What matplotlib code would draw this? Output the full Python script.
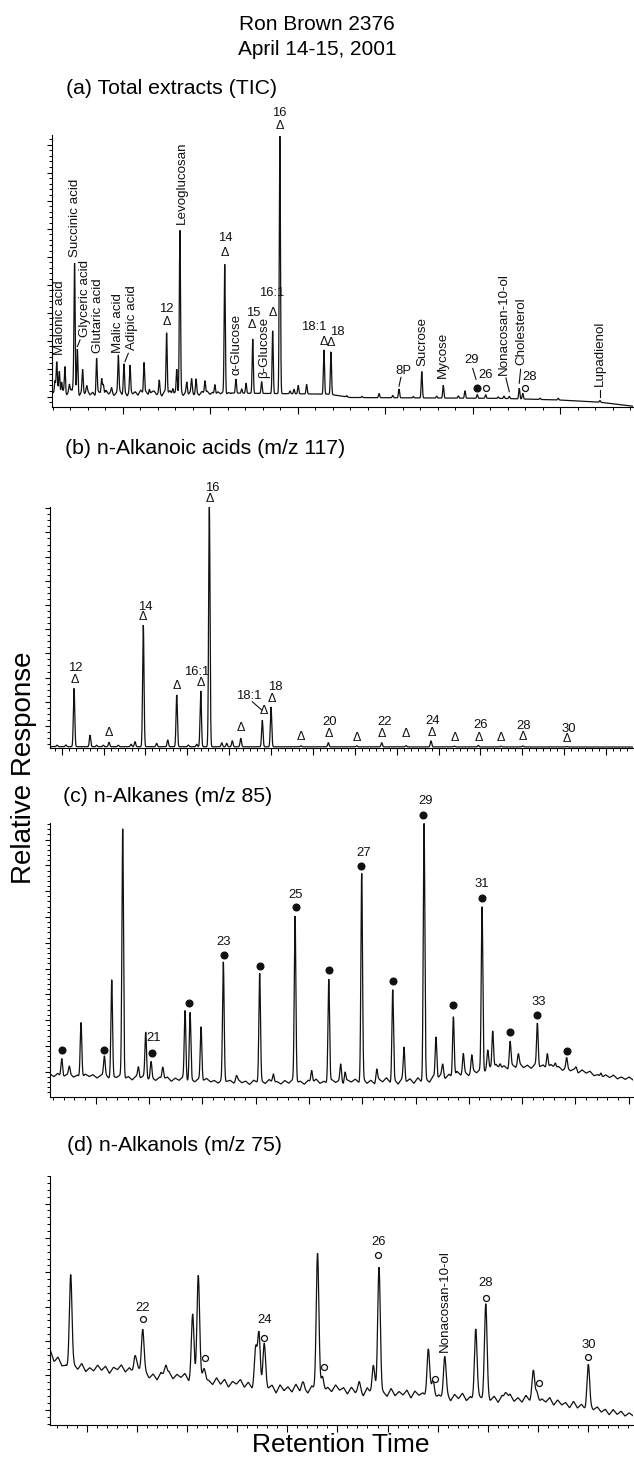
import numpy as np
import matplotlib
matplotlib.use("Agg")
import matplotlib.pyplot as plt
from matplotlib.ticker import MultipleLocator

plt.rcParams['font.family'] = ['Liberation Sans', 'DejaVu Sans']

# ======================= DATA =======================
# ---- (a) Total extracts (TIC) ----
A_BASE_T = [0.96, 11.1, 16.8, 18.0, 26.6, 30.0, 32.3, 34.16]
A_BASE_V = [1.3, 1.3, 0.9, -0.3, -0.6, -1.2, -2.0, -3.4]
A_PEAK_T = [1.13, 1.23, 1.38, 1.51, 1.70, 1.95, 2.18, 2.25, 2.41, 2.71, 2.94, 3.51, 3.80, 3.89,
            4.37, 4.75, 5.07, 5.42, 6.22, 6.52, 7.09, 7.51, 7.86, 8.09, 8.27, 8.66, 8.94, 9.19,
            9.70, 10.27, 10.83, 11.47, 11.8, 12.05, 12.43, 12.94, 13.57, 13.98, 14.56, 14.79,
            15.03, 15.51, 16.5, 16.9, 17.8, 18.67, 19.65, 20.43, 20.79, 21.6, 22.09, 22.94,
            23.32, 24.18, 24.56, 25.26, 25.74, 26.46, 26.79, 27.09, 27.66, 27.86, 28.85, 29.89,
            32.27]
A_PEAK_H = [5.0, 10.9, 7.3, 3.8, 9.7, 2.6, 3.3, 46.6, 15.8, 7.9, 1.9, 12.7, 5.5, 3.8,
            1.4, 12.7, 10.3, 9.1, 10.9, 1.9, 4.6, 21.6, 2.2, 8.5, 57.6, 3.8, 4.4, 5.0,
            4.4, 3.6, 46.1, 5.0, 1.5, 3.6, 19.4, 4.2, 22.4, 92.0, 1.0, 1.6,
            3.0, 3.4, 15.8, 15.2, 0.5, 0.4, 1.5, 0.8, 3.1, 0.5, 9.4, 0.7,
            4.6, 0.8, 2.6, 1.3, 1.3, 0.5, 0.8, 0.8, 3.8, 2.0, 0.5, 0.6,
            0.6]
A_NOISE_RANGE = (1.0, 11.2)
A_NOISE = [0.5, -0.8, 1.2, -0.3, 0.9, -1.0, 0.4, 1.3, -0.6, 0.2, -0.9, 0.8, -0.2, 1.1, -0.7, 0.3,
           -1.1, 0.6, 0.0, -0.8, 1.0, -0.4, 0.7, -0.9, 0.2, 1.2, -0.5, 0.4, -1.0, 0.9, -0.3, 0.5,
           -0.8, 1.1, -0.2, 0.6, -0.9, 0.3, 0.8, -0.6, 0.1, -1.0, 0.7, -0.3, 0.9, -0.7, 0.4, -0.2,
           0.8, -0.9, 0.5, -0.4, 1.0, -0.6, 0.2, -0.8, 0.6, -0.1, 0.7, -0.5, 0.3, -0.7, 0.5, -0.3,
           0.4, -0.5, 0.2, -0.2]
A_NAMES = ["Malonic acid", "Succinic acid", "Glyceric acid", "Glutaric acid", "Malic acid",
           "Adipic acid", "Levoglucosan", "α-Glucose", "β-Glucose", "Sucrose", "Mycose",
           "Nonacosan-10-ol", "Cholesterol", "Lupadienol"]
A_NUMS = ["12", "14", "15", "16:1", "16", "18:1", "18", "8P", "29", "26", "28"]

# ---- (b) n-Alkanoic acids (m/z 117) ----
B_BASE_T = [4.25, 87.85]
B_BASE_V = [1.45, 1.3]
B_PEAK_T = [5.33, 6.6, 7.77, 10.06, 11.0, 11.96, 12.78, 14.1, 15.93, 16.5, 17.69, 19.6, 21.19,
            22.48, 24.14, 25.34, 25.92, 27.15, 28.93, 29.64, 30.44, 31.65, 34.74, 35.99, 40.29,
            44.2, 48.27, 51.85, 55.33, 58.91, 62.25, 65.69, 68.94, 72.05, 78.35]
B_PEAK_H = [0.6, 0.7, 24.1, 4.8, 0.6, 0.6, 1.8, 0.6, 1.0, 2.1, 50.3, 1.4, 2.8,
            21.4, 0.7, 1.0, 23.1, 99.0, 1.6, 1.4, 2.5, 3.5, 11.0, 16.5, 0.4,
            1.7, 0.4, 1.7, 0.5, 2.5, 0.3, 0.6, 0.3, 0.4, 0.2]
B_NUMS = ["12", "14", "16:1", "16", "18:1", "18", "20", "22", "24", "26", "28", "30"]

# ---- (c) n-Alkanes (m/z 85) ----
C_BASE_T = [0.71, 5.4, 10.1, 14.8, 19.5, 24.2, 28.9, 35.4, 37.3, 40.1, 42.0, 44.8, 47.6,
            50.4, 52.3, 55.4]
C_BASE_V = [8.5, 8.3, 7.5, 6.7, 6.0, 6.0, 6.2, 6.5, 8.0, 9.5, 11.5, 12.3, 12.0,
            10.3, 8.5, 7.2]
C_PEAK_T = [1.81, 2.52, 3.62, 5.81, 6.5, 7.53, 9.0, 9.69, 10.19, 11.29, 13.38, 13.85, 14.88,
            16.97, 18.2, 20.38, 21.66, 23.7, 25.26, 26.86, 27.98, 28.39, 29.95, 31.36, 32.86,
            33.92, 35.8, 36.92, 37.55, 38.55, 39.48, 40.27, 41.24, 41.77, 42.24, 42.93, 43.87,
            44.64, 46.43, 47.36, 48.1, 49.18, 50.06, 52.4]
C_PEAK_H = [7.3, 2.8, 21.5, 6.9, 37.6, 96.3, 4.1, 17.5, 6.4, 4.5, 26.6, 26.1, 20.7,
            45.8, 2.0, 41.9, 3.4, 64.1, 4.7, 40.1, 6.8, 4.0, 80.0, 4.8, 35.4,
            12.8, 99.5, 15.8, 4.5, 23.6, 7.6, 6.3, 63.5, 6.5, 14.3, 2.0, 9.7,
            4.2, 16.6, 5.8, 1.8, 3.8, 1.5, 1.5]
C_NOISE = [0.6, -0.4, 0.9, -0.7, 0.2, 1.0, -0.5, 0.3, -0.9, 0.7, -0.2, 0.5, -0.8, 0.4, 1.1, -0.6,
           0.1, -0.3, 0.8, -0.7, 0.3, -1.0, 0.6, -0.2, 0.9, -0.5, 0.2, -0.8, 0.5, -0.1, 0.7, -0.9,
           0.4, -0.4, 1.0, -0.6, 0.2, -0.7, 0.6, -0.3, 0.8, -0.5, 0.1, -0.9, 0.6, -0.2, 0.4, -0.7,
           0.9, -0.4, 0.3, -1.0, 0.7, -0.1, 0.5, -0.6, 1.0, -0.3, 0.2, -0.8, 0.6, -0.5, 0.9, -0.2,
           0.3, -0.9, 0.7, -0.4, 1.1, -0.6, 0.2, -0.7, 0.8, -0.3, 0.5, -1.0, 0.6, -0.2, 0.9, -0.5,
           1.2, -0.8, 0.4, -1.1, 0.9, -0.3, 1.3, -0.7, 0.5, -1.2, 1.0, -0.4, 0.8, -1.0, 1.2, -0.6,
           0.3, -1.3, 0.9, -0.5, 1.1, -0.9, 0.6, -1.2, 1.3, -0.4, 0.7, -1.0, 1.0, -0.6, 0.4, -1.1,
           0.9, -0.3, 1.2, -0.8, 0.5, -1.0, 0.8, -0.5, 1.0, -0.7, 0.3, -0.9, 0.8, -0.4, 0.6, -1.0,
           0.9, -0.2, 0.5, -0.8, 0.7, -0.5, 0.4, -0.9, 0.6, -0.3, 0.8, -0.6, 0.2, -0.7, 0.5, -0.4,
           0.7, -0.6, 0.3, -0.5, 0.6, -0.4]
C_NUMS = ["21", "23", "25", "27", "29", "31", "33"]

# ---- (d) n-Alkanols (m/z 75) ----
D_BASE_T = [1.35, 1.84, 2.84, 6.33, 9.62, 11.32, 15.0, 16.3, 21.3, 24.3, 29.3, 34.2, 39.2,
            43.2, 49.2, 52.2, 54.7, 57.2, 59.47]
D_BASE_V = [26.6, 24.5, 22.5, 21.9, 21.9, 20.2, 19.6, 18.7, 17.3, 16.1, 16.1, 15.0, 14.4,
            13.5, 13.2, 12.0, 10.9, 9.4, 8.6]
D_PEAK_T = [3.41, 9.82, 10.59, 12.88, 15.57, 16.13, 16.73, 21.85, 22.18, 22.71, 26.54, 28.02,
            28.53, 32.18, 33.58, 34.15, 39.06, 39.56, 40.7, 43.79, 44.79, 46.8, 49.53, 49.9, 55.01]
D_PEAK_H = [27.7, 4.1, 12.6, 3.2, 17.9, 30.1, 3.6, 10.7, 15.7, 11.7, 2.0, 39.2,
            4.0, 2.4, 7.6, 37.3, 13.3, 4.5, 11.2, 20.5, 26.5, 2.0, 7.9, 3.0, 12.1]
D_NOISE = [1.0, -0.8, 1.5, -0.3, 0.6, -1.2, 0.9, -0.5, 1.3, -1.0, 0.2, -0.7, 1.1, -0.4, 0.8, -1.3,
           0.5, -0.2, 1.2, -0.9, 0.4, -1.1, 1.4, -0.6, 0.7, -1.0, 0.3, -1.4, 0.9, -0.5, 1.2, -0.8,
           0.6, -0.3, 1.0, -1.2, 0.8, -0.6, 1.5, -0.4, 0.2, -1.0, 1.1, -0.7, 0.9, -1.3, 0.5, -0.2,
           1.3, -0.9, 0.7, -1.1, 0.4, -0.6, 1.0, -0.3, 0.8, -1.4, 1.2, -0.5, 0.6, -0.9, 1.4, -0.7,
           0.3, -1.2, 0.9, -0.4, 1.1, -1.0, 0.5, -0.8, 1.3, -0.2, 0.7, -1.1, 1.0, -0.6, 0.4, -1.3,
           1.2, -0.5, 0.8, -0.9, 0.3, -1.0, 1.4, -0.7, 0.6, -0.4, 1.1, -1.2, 0.9, -0.3, 0.5, -0.8,
           1.3, -1.0, 0.2, -0.6, 1.0, -1.3, 0.7, -0.5, 1.2, -0.9, 0.4, -1.1, 0.8, -0.2, 1.1, -0.7,
           0.6, -1.2, 0.9, -0.4, 1.3, -0.8, 0.3, -1.0, 1.0, -0.6, 0.7, -1.1, 0.5, -0.3, 1.2, -0.9,
           0.8, -0.5, 0.4, -1.0, 1.1, -0.7, 0.6, -0.8, 0.9, -0.4, 0.7, -0.6, 0.5, -0.9, 0.8, -0.5,
           0.6, -0.7, 0.4, -0.3]
D_NUMS = ["22", "24", "26", "28", "30"]

# ======================= LAYOUT =======================
W, H = 634, 1459
fig = plt.figure(figsize=(W / 100, H / 100), dpi=100)
LW = 0.9
INK = '#111111'


def rect(left, top, bottom, right=633):
    return [left / W, 1 - bottom / H, (right - left) / W, (bottom - top) / H]


def style(ax, xmaj, xmi, ymaj, ymi):
    for s in ('top', 'right'):
        ax.spines[s].set_visible(False)
    for s in ('left', 'bottom'):
        ax.spines[s].set_linewidth(0.8)
    ax.xaxis.set_major_locator(MultipleLocator(xmaj))
    ax.xaxis.set_minor_locator(MultipleLocator(xmi))
    ax.yaxis.set_major_locator(MultipleLocator(ymaj))
    ax.yaxis.set_minor_locator(MultipleLocator(ymi))
    ax.tick_params(axis='x', which='major', direction='out', length=5, width=0.8, labelbottom=False)
    ax.tick_params(axis='x', which='minor', direction='out', length=2.2, width=0.7)
    ax.tick_params(axis='y', which='major', direction='out', length=3.5, width=0.8, labelleft=False)
    ax.tick_params(axis='y', which='minor', direction='out', length=2.0, width=0.7)
    ax.patch.set_alpha(0)


def trace(ax, xlim, base_t, base_v, pk_t, pk_h, sigma, noise=None, nrange=None):
    t = np.linspace(xlim[0], xlim[1], 9000)
    y = np.interp(t, base_t, base_v)
    if noise is not None:
        nr = nrange if nrange is not None else xlim
        nt = np.linspace(nr[0], nr[1], len(noise))
        y = y + np.interp(t, nt, noise, left=0, right=0)
    for p, h in zip(pk_t, pk_h):
        y = y + h * np.exp(-0.5 * ((t - p) / sigma) ** 2)
    ax.plot(t, y, color=INK, lw=LW, solid_joinstyle='miter')


def num(ax, s, x, y, fs=9.4):
    ax.text(x, y, s, ha='center', va='center', fontsize=fs, color=INK, clip_on=False)


def delta(ax, x, y):
    ax.text(x, y, 'Δ', ha='center', va='center', fontsize=9, color=INK, clip_on=False)


def vlabel(ax, s, x, y, fs=9.6):
    ax.text(x, y, s, rotation=90, ha='center', va='bottom', fontsize=fs, color=INK, clip_on=False)


def leader(ax, p0, p1):
    ax.plot([p0[0], p1[0]], [p0[1], p1[1]], color=INK, lw=0.8, clip_on=False)


def dot(ax, x, y):
    ax.plot([x], [y], 'o', ms=4.8, color=INK, clip_on=False)


def ring(ax, x, y):
    ax.plot([x], [y], 'o', ms=4.3, mfc='white', mec=INK, mew=0.9, clip_on=False)


# ---------- titles ----------
fig.text(317 / W, 1 - 30 / H, "Ron Brown 2376", ha='center', va='baseline', fontsize=15)
fig.text(317 / W, 1 - 55 / H, "April 14-15, 2001", ha='center', va='baseline', fontsize=15)
fig.text(66 / W, 1 - 94 / H, "(a) Total extracts (TIC)", ha='left', va='baseline', fontsize=15.3)
fig.text(65 / W, 1 - 454 / H, "(b) n-Alkanoic acids (m/z 117)", ha='left', va='baseline', fontsize=15.3)
fig.text(63 / W, 1 - 802 / H, "(c) n-Alkanes (m/z 85)", ha='left', va='baseline', fontsize=15.3)
fig.text(67 / W, 1 - 1151 / H, "(d) n-Alkanols (m/z 75)", ha='left', va='baseline', fontsize=15.3)
fig.text(24 / W, 1 - 768 / H, "Relative Response", rotation=90, ha='center', va='center', fontsize=20)
fig.text(341 / W, 1 - 1445 / H, "Retention Time", ha='center', va='center', fontsize=19)

# ---------- panel (a) ----------
axa = fig.add_axes(rect(52, 135, 407))
A_XLIM, A_YLIM = (0.96, 34.16), (-3.68, 93.46)
axa.set_xlim(*A_XLIM); axa.set_ylim(*A_YLIM)
style(axa, 5, 1, 10, 2)
trace(axa, A_XLIM, A_BASE_T, A_BASE_V, A_PEAK_T, A_PEAK_H, 0.033, A_NOISE, A_NOISE_RANGE)
A_LAB_POS = [(1.42, 14.9), (2.27, 50.0), (2.85, 21.4), (3.61, 15.5), (4.75, 15.5), (5.56, 16.7),
             (8.37, 61.7), (11.51, 7.75), (13.07, 6.7), (22.1, 11.0), (23.3, 6.7), (26.76, 7.75),
             (27.8, 11.3), (32.27, 3.8)]
for s, (x, y) in zip(A_NAMES, A_LAB_POS):
    vlabel(axa, s, x, y)
for p0, p1 in [((2.56, 20.25), (2.41, 17.9)), ((5.32, 15.5), (5.13, 12.5)),
               ((26.9, 6.7), (27.09, 1.8)), ((27.74, 9.8), (27.66, 4.8)),
               ((32.27, 2.4), (32.27, -0.1)), ((20.9, 6.9), (20.79, 3.8)),
               ((25.0, 10.1), (25.19, 6.2))]:
    leader(axa, p0, p1)
A_NUM_POS = [(7.51, 31.2), (10.85, 56.6), (12.43, 30.0), (13.51, 36.9), (13.93, 101.3),
             (15.93, 25.0), (17.26, 23.2), (21.03, 9.2), (24.94, 13.1), (25.74, 7.75), (28.27, 6.9)]
for s, (x, y) in zip(A_NUMS, A_NUM_POS):
    num(axa, s, x, y)
for x, y in [(7.51, 26.8), (10.85, 51.4), (12.37, 25.6), (13.57, 30.0), (13.96, 96.7),
             (16.5, 19.6), (16.9, 19.3)]:
    delta(axa, x, y)
dot(axa, 25.23, 3.2)
ring(axa, 25.74, 3.0)
ring(axa, 27.99, 3.0)

# ---------- panel (b) ----------
axb = fig.add_axes(rect(49.5, 507, 748))
B_XLIM, B_YLIM = (4.25, 87.85), (0.9, 100.5)
axb.set_xlim(*B_XLIM); axb.set_ylim(*B_YLIM)
style(axb, 6, 1, 10, 2.5)
trace(axb, B_XLIM, B_BASE_T, B_BASE_V, B_PEAK_T, B_PEAK_H, 0.1)
B_NUM_POS = [(7.91, 33.8), (17.94, 59.3), (25.34, 32.4), (27.62, 108.2), (32.74, 22.4),
             (36.56, 26.2), (44.34, 11.8), (52.22, 11.8), (59.15, 12.1), (66.03, 10.4),
             (72.23, 10.0), (78.58, 8.6)]
for s, (x, y) in zip(B_NUMS, B_NUM_POS):
    num(axb, s, x, y)
for x, y in [(7.91, 29.0), (12.78, 7.0), (17.69, 54.9), (22.48, 26.7), (25.96, 27.6),
             (27.15, 103.7), (31.65, 9.0), (34.89, 16.2), (36.09, 21.0), (40.29, 5.6),
             (44.2, 6.6), (48.27, 4.9), (51.85, 6.6), (55.33, 6.6), (59.01, 7.0), (62.25, 4.9),
             (65.79, 5.2), (68.94, 5.2), (72.05, 5.6), (78.35, 4.5)]:
    delta(axb, x, y)
leader(axb, (33.31, 20.0), (34.66, 16.6))

# ---------- panel (c) ----------
axc = fig.add_axes(rect(50, 823.3, 1096.7))
C_XLIM, C_YLIM = (0.71, 55.4), (0.3, 106.3)
axc.set_xlim(*C_XLIM); axc.set_ylim(*C_YLIM)
style(axc, 5, 1, 10, 2)
trace(axc, C_XLIM, C_BASE_T, C_BASE_V, C_PEAK_T, C_PEAK_H, 0.075, C_NOISE)
for x, y in [(1.81, 18.4), (5.81, 18.4), (10.25, 17.4), (13.75, 36.5), (17.06, 55.2),
             (20.41, 51.0), (23.76, 74.0), (26.91, 49.4), (29.89, 89.7), (32.86, 45.3),
             (35.73, 109.5), (38.55, 35.9), (41.27, 77.4), (43.86, 25.5), (46.37, 32.0),
             (49.18, 18.0)]:
    dot(axc, x, y)
C_NUM_POS = [(10.47, 23.2), (17.04, 60.4), (23.79, 78.5), (30.1, 94.9), (35.92, 115.0),
             (41.21, 82.8), (46.56, 36.9)]
for s, (x, y) in zip(C_NUMS, C_NUM_POS):
    num(axc, s, x, y)

# ---------- panel (d) ----------
axd = fig.add_axes(rect(50, 1175.7, 1425))
D_XLIM, D_YLIM = (1.35, 59.47), (5.6, 78.1)
axd.set_xlim(*D_XLIM); axd.set_ylim(*D_YLIM)
style(axd, 5, 1, 10, 2)
trace(axd, D_XLIM, D_BASE_T, D_BASE_V, D_PEAK_T, D_PEAK_H, 0.13, D_NOISE)
for x, y in [(10.59, 36.4), (16.8, 25.2), (22.71, 31.0), (28.69, 22.4), (34.02, 55.1),
             (39.73, 19.1), (44.79, 42.5), (50.1, 17.9), (55.01, 25.3)]:
    ring(axd, x, y)
D_NUM_POS = [(10.59, 39.7), (22.78, 36.0), (34.15, 58.9), (44.79, 46.8), (55.01, 28.9)]
for s, (x, y) in zip(D_NUMS, D_NUM_POS):
    num(axd, s, x, y)
vlabel(axd, "Nonacosan-10-ol", 40.73, 26.9)

fig.savefig("out.png", dpi=100)
